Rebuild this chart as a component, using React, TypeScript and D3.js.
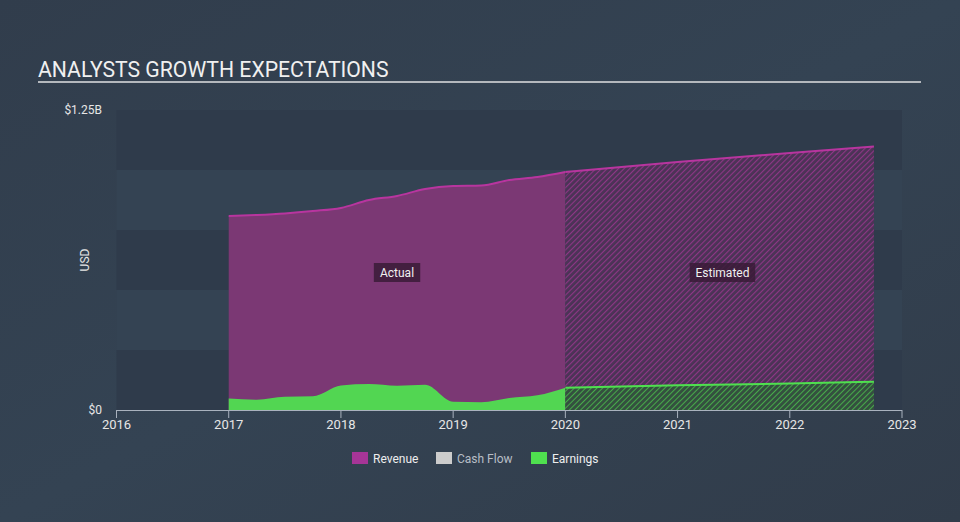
import React from "react";
import * as d3 from "d3";

const revenueActual: [number, number][] = [
  [2017.0, 0.808], [2017.25, 0.8125], [2017.5, 0.819], [2017.75, 0.829], [2018.0, 0.842],
  [2018.25, 0.875], [2018.5, 0.892], [2018.75, 0.921], [2019.0, 0.933], [2019.25, 0.935],
  [2019.5, 0.958], [2019.75, 0.971], [2020.0, 0.992],
];
const revenueEstimated: [number, number][] = [
  [2020.0, 0.992], [2021.0, 1.033], [2022.0, 1.071], [2022.75, 1.098],
];
const earningsActual: [number, number][] = [
  [2017.0, 0.048], [2017.25, 0.043], [2017.5, 0.055], [2017.75, 0.057], [2018.0, 0.102],
  [2018.25, 0.108], [2018.5, 0.101], [2018.75, 0.105], [2019.0, 0.034], [2019.25, 0.032],
  [2019.5, 0.05], [2019.75, 0.061], [2020.0, 0.093],
];
const earningsEstimated: [number, number][] = [
  [2020.0, 0.093], [2021.0, 0.103], [2022.0, 0.11], [2022.75, 0.118],
];
const xTicks = [2016, 2017, 2018, 2019, 2020, 2021, 2022, 2023];
const yTickLabels = ["$0", "$1.25B"];
const yTickValues = [0, 1.25];
const legendItems = ["Revenue", "Cash Flow", "Earnings"];
const legendColors = ["#a63597", "#cccccc", "#4fe04f"];

export default function App() {
  const W = 960, H = 522;
  const left = 116.5, right = 902, top = 110, bottom = 410;
  const x = d3.scaleLinear().domain([2016, 2023]).range([left, right]);
  const y = d3.scaleLinear().domain([0, 1.25]).range([bottom, top]);
  const bandVals = [0, 0.25, 0.5, 0.75, 1.0];

  const area = (data: [number, number][]) =>
    d3
      .area<[number, number]>()
      .x((d) => x(d[0]))
      .y0(bottom)
      .y1((d) => y(d[1]))
      .curve(d3.curveMonotoneX)(data) || "";
  const line = (data: [number, number][]) =>
    d3
      .line<[number, number]>()
      .x((d) => x(d[0]))
      .y((d) => y(d[1]))
      .curve(d3.curveMonotoneX)(data) || "";

  const font = "Roboto, 'Open Sans', sans-serif";

  return (
    <svg
      width={W}
      height={H}
      style={{ position: "absolute", left: 0, top: 0, display: "block" }}
    >
      <defs>
        <linearGradient id="bg" x1="0" y1="0" x2="1" y2="1">
          <stop offset="0" stopColor="#313d4c" />
          <stop offset="0.5" stopColor="#344353" />
          <stop offset="1" stopColor="#313c4a" />
        </linearGradient>
        <pattern id="hatchRev" width="4" height="4" patternUnits="userSpaceOnUse" patternTransform="rotate(45)">
          <rect width="4" height="4" fill="#4b3356" />
          <line x1="0" y1="0" x2="0" y2="4" stroke="#8e3686" strokeWidth="2.2" />
        </pattern>
        <pattern id="hatchEarn" width="4" height="4" patternUnits="userSpaceOnUse" patternTransform="rotate(45)">
          <rect width="4" height="4" fill="#34503f" />
          <line x1="0" y1="0" x2="0" y2="4" stroke="#4cc14c" strokeWidth="1.6" />
        </pattern>
      </defs>
      <rect width={W} height={H} fill="url(#bg)" />

      <text x={38} y={76.5} fill="#f0f0f0" fontSize={21.2} fontFamily={font}>
        ANALYSTS GROWTH EXPECTATIONS
      </text>
      <rect x={38} y={81} width={883} height={2} fill="#b4b8bd" />

      {bandVals.map((v, i) => (
        <rect
          key={v}
          x={left}
          y={y(v + 0.25)}
          width={right - left}
          height={y(v) - y(v + 0.25)}
          fill={i % 2 === 0 ? "#2f3b4b" : "#344353"}
        />
      ))}

      <path d={area(revenueActual)} fill="#7b3874" />
      <path d={area(revenueEstimated)} fill="url(#hatchRev)" />
      <path d={line(revenueActual)} fill="none" stroke="#b8359f" strokeWidth={2} />
      <path d={line(revenueEstimated)} fill="none" stroke="#b8359f" strokeWidth={2} />

      <path d={area(earningsActual)} fill="#52d652" />
      <path d={area(earningsEstimated)} fill="url(#hatchEarn)" />
      <path d={line(earningsEstimated)} fill="none" stroke="#4fe04f" strokeWidth={2} />

      {[
        { t: "Actual", cx: x(2018.5) },
        { t: "Estimated", cx: x(2021.4) },
      ].map((l) => {
        const w = l.t.length * 6.4 + 8;
        return (
          <g key={l.t}>
            <rect x={l.cx - w / 2} y={263} width={w} height={19} fill="#3a1b37" opacity={0.85} />
            <text x={l.cx} y={276.5} textAnchor="middle" fill="#f0f0f0" fontSize={12} fontFamily={font}>
              {l.t}
            </text>
          </g>
        );
      })}

      <line x1={left} x2={right} y1={bottom + 0.5} y2={bottom + 0.5} stroke="#a9b2be" strokeWidth={1} />
      {xTicks.map((t) => (
        <g key={t}>
          <line x1={x(t)} x2={x(t)} y1={bottom} y2={bottom + 8} stroke="#a9b2be" strokeWidth={1} />
          <text x={x(t)} y={429} textAnchor="middle" fill="#e6e6e6" fontSize={13} fontFamily={font}>
            {t}
          </text>
        </g>
      ))}

      {yTickValues.map((v, i) => (
        <text key={v} x={102} y={y(v) + 4} textAnchor="end" fill="#e6e6e6" fontSize={12} fontFamily={font}>
          {yTickLabels[i]}
        </text>
      ))}
      <text
        transform={`translate(89,${(top + bottom) / 2}) rotate(-90)`}
        textAnchor="middle"
        fill="#e6e6e6"
        fontSize={12}
        fontFamily={font}
      >
        USD
      </text>

      {legendItems.map((item, i) => {
        const xs = [352, 436, 531][i];
        return (
          <g key={item}>
            <rect x={xs} y={452} width={16} height={12} fill={legendColors[i]} />
            <text
              x={xs + 21}
              y={462.5}
              fill={i === 1 ? "#b8bec6" : "#eeeeee"}
              fontSize={12}
              fontFamily={font}
            >
              {item}
            </text>
          </g>
        );
      })}
    </svg>
  );
}
